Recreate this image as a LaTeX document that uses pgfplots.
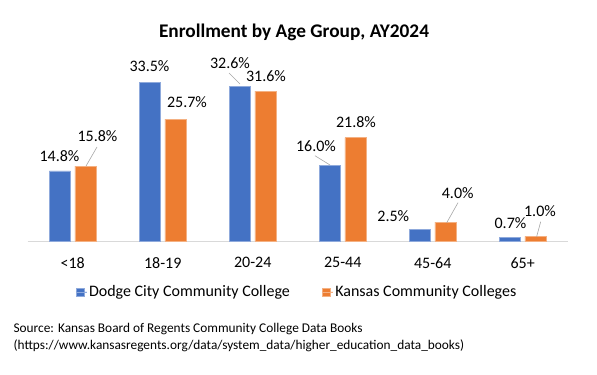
\documentclass[border=0pt]{standalone}
\usepackage{pgfplots}
\pgfplotsset{compat=1.18}
\usepackage{fontspec}
\setmainfont{Carlito}
\definecolor{cblue}{HTML}{4472C4}
\definecolor{corange}{HTML}{ED7D31}
\definecolor{axgray}{HTML}{D9D9D9}
\definecolor{leader}{HTML}{A6A6A6}
\begin{document}
\begin{tikzpicture}
\useasboundingbox (0,0) rectangle (597bp,375bp);
\begin{axis}[
  at={(27.7bp,134bp)}, anchor=south west,
  scale only axis,
  width=540bp, height=166.1bp,
  xmin=-0.5, xmax=5.5, ymin=0, ymax=35,
  ybar=4.5bp, bar width=21bp,
  clip=false,
  axis y line=none,
  axis x line*=bottom,
  x axis line style={draw=axgray, line width=0.8bp, -},
  xtick={0,1,2,3,4,5},
  xticklabels={<18,18-19,20-24,25-44,45-64,65+},
  major tick length=0pt,
  xticklabel style={font=\fontsize{16bp}{19bp}\selectfont, text=black, yshift=-13bp},
  legend style={at={(0.4987,-0.307)}, anchor=center, draw=none, fill=none,
    legend columns=2, font=\fontsize{16bp}{19bp}\selectfont,
    /tikz/every even column/.append style={column sep=30bp}},
  legend image code/.code={\fill[#1] (0bp,-4bp) rectangle (8bp,4bp); \path (0bp,0bp) -- (11bp,0bp);},
]
\addplot[fill=cblue, draw=cblue!60!white, line width=0.4bp] coordinates {(0,14.8) (1,33.5) (2,32.6) (3,16.0) (4,2.5) (5,0.7)};
\addplot[fill=corange, draw=corange!60!white, line width=0.4bp] coordinates {(0,15.8) (1,25.7) (2,31.6) (3,21.8) (4,4.0) (5,1.0)};
\legend{Dodge City Community College, Kansas Community Colleges}
\begin{scope}[every node/.style={font=\fontsize{16bp}{19bp}\selectfont, inner sep=0pt}]
\node at (axis cs:-0.147,17.91) {14.8\%};
\node at (axis cs:0.2756,22.12) {15.8\%};
\node at (axis cs:0.853,36.87) {33.5\%};
\node at (axis cs:1.27,29.29) {25.7\%};
\node at (axis cs:1.748,37.5) {32.6\%};
\node at (axis cs:2.148,34.83) {31.6\%};
\node at (axis cs:2.703,20.02) {16.0\%};
\node at (axis cs:3.148,25.14) {21.8\%};
\node at (axis cs:3.562,5.33) {2.5\%};
\node at (axis cs:4.278,10.18) {4.0\%};
\node at (axis cs:4.864,3.79) {0.7\%};
\node at (axis cs:5.192,6.38) {1.0\%};
\end{scope}
\draw[leader, line width=0.6bp] (axis cs:0.270,19.81) -- (axis cs:0.148,15.80);
\draw[leader, line width=0.6bp] (axis cs:1.737,35.4) -- (axis cs:1.859,33.08);
\draw[leader, line width=0.6bp] (axis cs:2.692,17.97) -- (axis cs:2.859,16.01);
\draw[leader, line width=0.6bp] (axis cs:4.281,8.07) -- (axis cs:4.156,3.86);
\draw[leader, line width=0.6bp] (axis cs:5.2,4.07) -- (axis cs:5.155,0.91);
\end{axis}
\node[font=\bfseries\fontsize{19.3bp}{22bp}\selectfont, inner sep=0pt] at (294bp,342.4bp) {Enrollment by Age Group, AY2024};
\node[font=\fontsize{13.33bp}{16bp}\selectfont, inner sep=0pt, anchor=west] at (13.4bp,46bp) {Source: Kansas Board of Regents Community College Data Books};
\node[font=\fontsize{13.33bp}{16bp}\selectfont, inner sep=0pt, anchor=west] at (13.4bp,29bp) {(https://www.kansasregents.org/data/system\_data/higher\_education\_data\_books)};
\end{tikzpicture}
\end{document}
